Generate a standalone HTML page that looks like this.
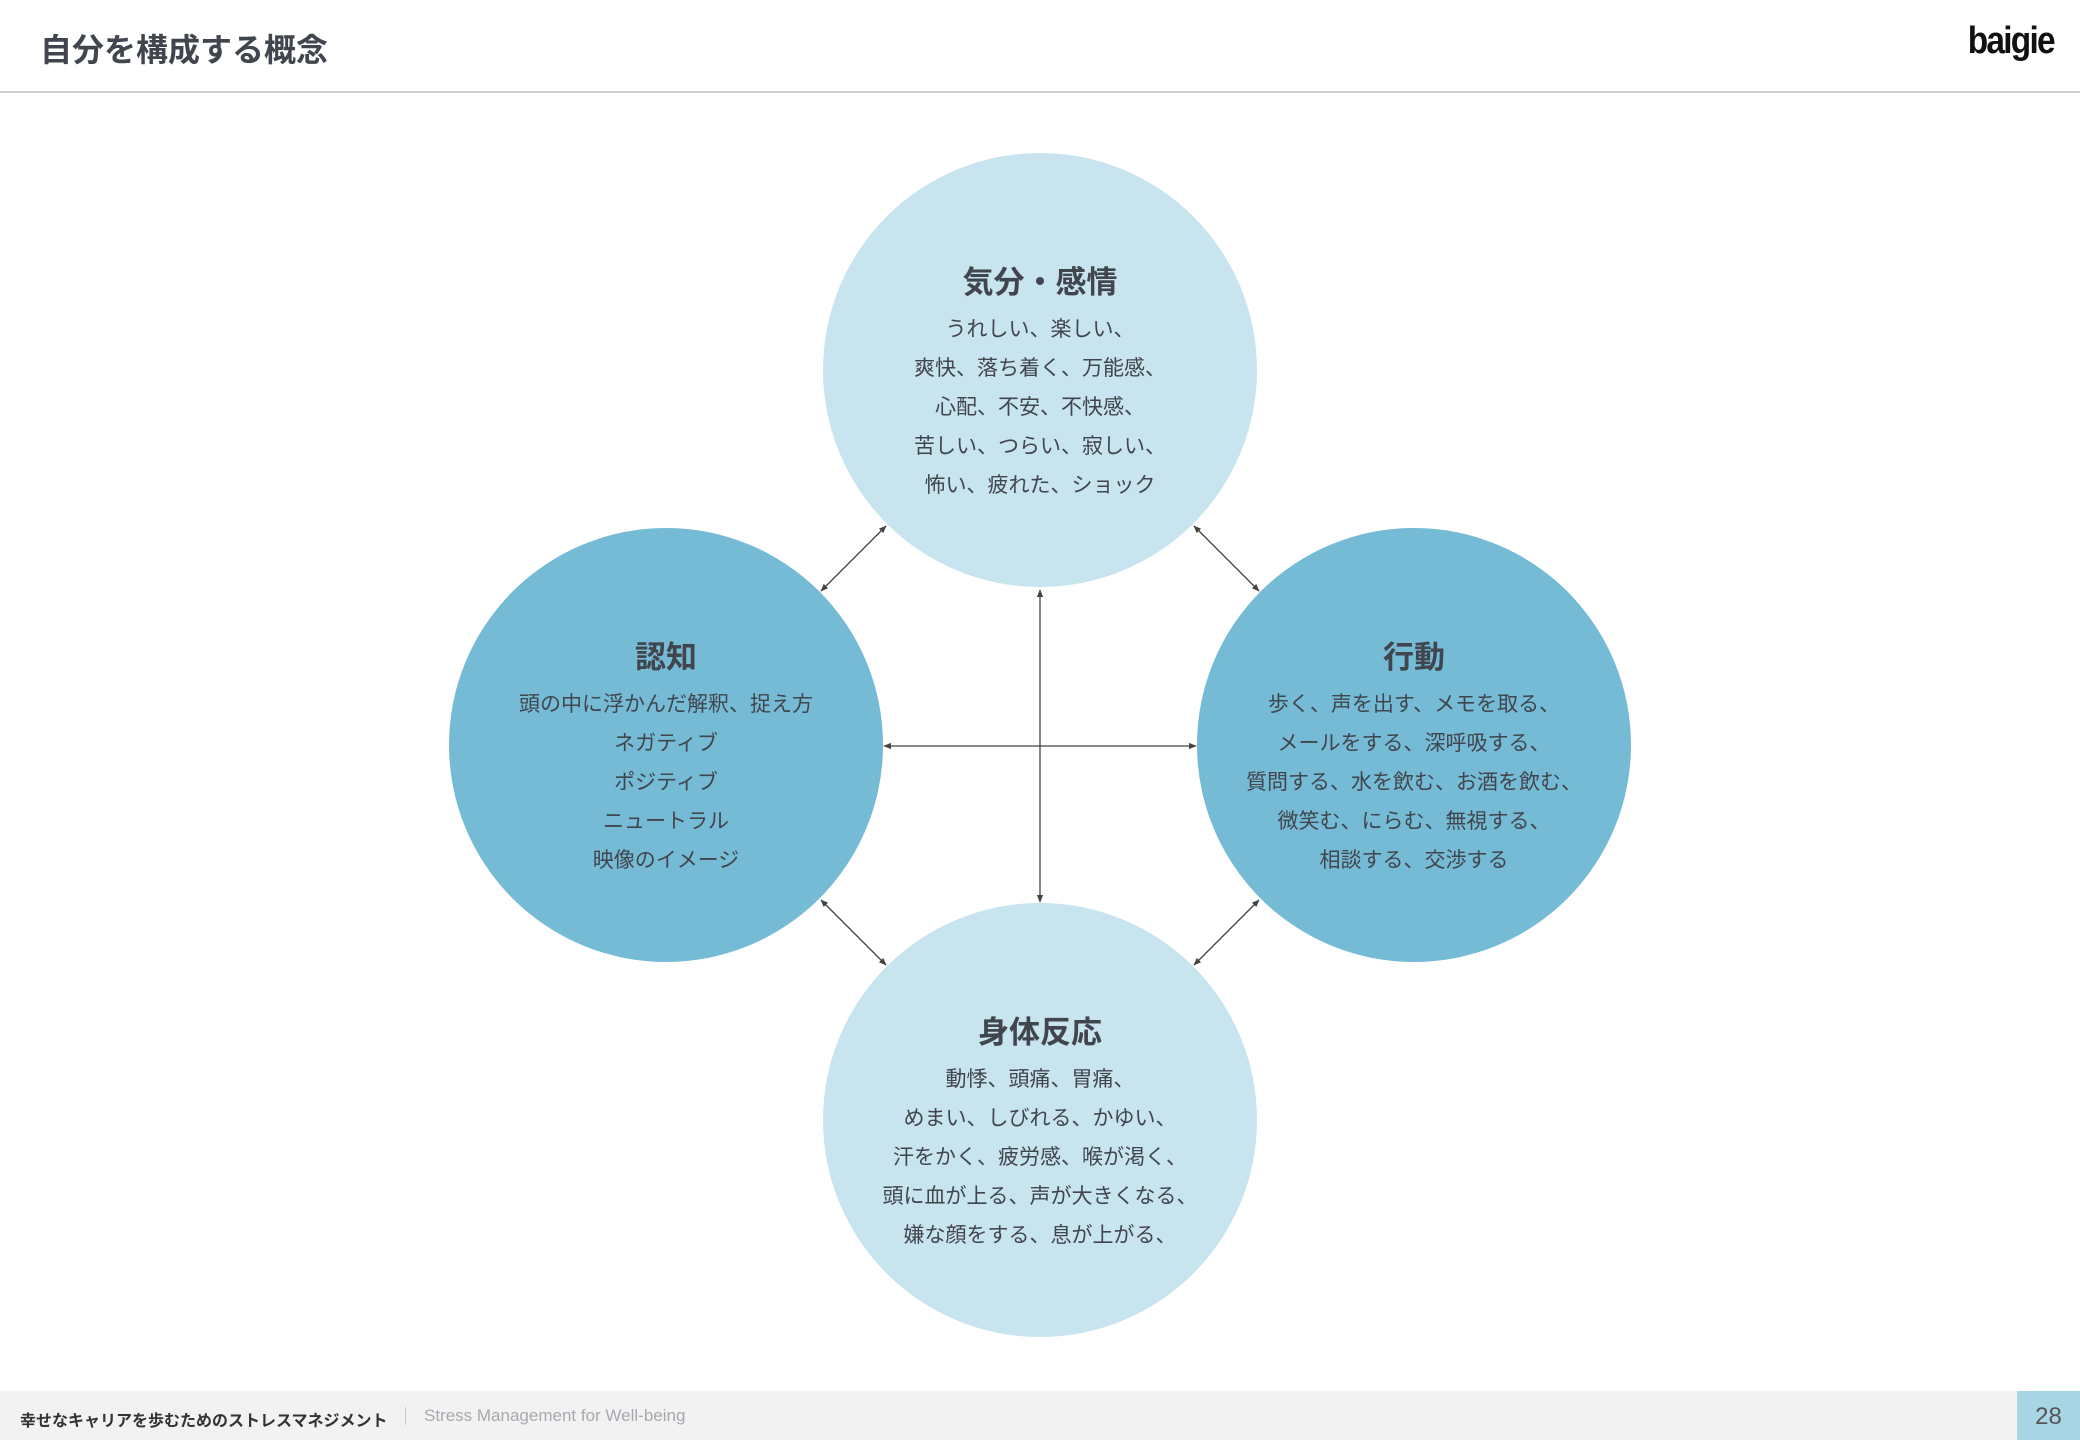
<!DOCTYPE html><html><head><meta charset="utf-8"><style>
body{margin:0;width:2080px;height:1440px;background:#fff;position:relative;overflow:hidden;font-family:"Liberation Sans","Noto Sans CJK JP",sans-serif;color:#41454d}
.t{position:absolute;left:40px;top:25px;font-size:32px;font-weight:bold}
.logo{position:absolute;right:26px;top:20px;font-size:38px;font-weight:bold;color:#111;letter-spacing:-2px;transform:scaleX(0.88);transform-origin:right}
.hl{position:absolute;left:0;top:91px;width:2080px;height:2px;background:#d0d0d0}
.foot{position:absolute;left:0;top:1391px;width:2080px;height:49px;background:#f2f2f2}
.f1{position:absolute;left:20px;top:1407px;font-size:16px;font-weight:bold;color:#333}
.f2{position:absolute;top:1406px;font-size:17px;color:#a6a9b0}
.pg{position:absolute;left:2017px;top:1391px;width:63px;height:49px;background:#a9d6e5;font-size:24px;color:#555;text-align:center;line-height:51px}
.c{position:absolute;width:434px;height:434px;border-radius:50%;text-align:center}
.c h{display:block;font-size:31px;font-weight:bold;margin-top:105px;line-height:50px}
.c p{margin:0;margin-top:2px;font-size:21px;line-height:39px}
.l{background:#c8e4ef}.d{background:#75bbd5}
</style></head><body>
<div class="t">自分を構成する概念</div><div class="logo">baigie</div><div class="hl"></div>
<div class="c l" style="left:823px;top:153px"><h>気分・感情</h><p>うれしい、楽しい、<br>爽快、落ち着く、万能感、<br>心配、不安、不快感、<br>苦しい、つらい、寂しい、<br>怖い、疲れた、ショック</p></div>
<div class="c d" style="left:449px;top:528px"><h>認知</h><p>頭の中に浮かんだ解釈、捉え方<br>ネガティブ<br>ポジティブ<br>ニュートラル<br>映像のイメージ</p></div>
<div class="c d" style="left:1197px;top:528px"><h>行動</h><p>歩く、声を出す、メモを取る、<br>メールをする、深呼吸する、<br>質問する、水を飲む、お酒を飲む、<br>微笑む、にらむ、無視する、<br>相談する、交渉する</p></div>
<div class="c l" style="left:823px;top:903px"><h>身体反応</h><p>動悸、頭痛、胃痛、<br>めまい、しびれる、かゆい、<br>汗をかく、疲労感、喉が渇く、<br>頭に血が上る、声が大きくなる、<br>嫌な顔をする、息が上がる、</p></div>
<svg width="2080" height="1440" style="position:absolute;left:0;top:0">
<defs><marker id="a" viewBox="0 0 10 10" refX="9" refY="5" markerWidth="6" markerHeight="6" orient="auto-start-reverse"><path d="M0,1L10,5L0,9z" fill="#444"/></marker></defs>
<g stroke="#444" stroke-width="1.3" marker-start="url(#a)" marker-end="url(#a)">
<line x1="886" y1="526" x2="821" y2="591"/>
<line x1="1194" y1="526" x2="1259" y2="591"/>
<line x1="821" y1="900" x2="886" y2="965"/>
<line x1="1259" y1="900" x2="1194" y2="965"/>
<line x1="1040" y1="590" x2="1040" y2="902"/>
<line x1="884" y1="746" x2="1196" y2="746"/>
</g></svg>
<div class="foot"></div>
<div class="f1">幸せなキャリアを歩むためのストレスマネジメント</div>
<div style="position:absolute;left:405px;top:1407px;width:1px;height:18px;background:#ccc"></div>
<div class="f2" style="left:424px">Stress Management for Well-being</div>
<div class="pg">28</div>
</body></html>
